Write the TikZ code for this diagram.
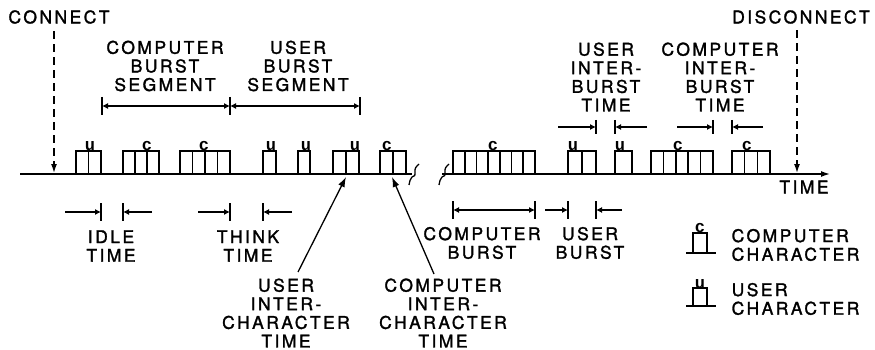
\documentclass[tikz,border=0pt]{standalone}
\usepackage{fontspec}
\newfontfamily\lab{TeX Gyre Heros}[LetterSpace=14,FakeBold=1.6]
\newfontfamily\chr{Liberation Mono}
\usetikzlibrary{arrows.meta}

\begin{document}
\begin{tikzpicture}[x=1pt,y=-1pt,line width=1.3pt,
  txt/.style={font=\lab\fontsize{17.5}{18.6}\selectfont,align=center,inner sep=0pt},
  txtl/.style={txt,align=left,anchor=west},
  chrlab/.style={font=\chr\bfseries\fontsize{17}{17}\selectfont,inner sep=0pt,anchor=base},
  cell/.style={line width=1.6pt},
  axis/.style={line width=1.4pt},
  tip/.style={-{Latex[length=9pt,width=6pt]}},
  dim/.style={line width=1.1pt,-{Latex[length=6pt,width=6pt]}},
  dimboth/.style={line width=1.1pt,{Latex[length=6pt,width=6pt]}-{Latex[length=6pt,width=6pt]}},
  bar/.style={line width=1.4pt},
  marker/.style={line width=1.4pt,dash pattern=on 8pt off 5pt,-{Latex[length=9pt,width=6pt]}},
  pointer/.style={line width=1.3pt,-{Latex[length=10pt,width=7pt]}}]
\useasboundingbox (0,0) rectangle (875,350);

% time axis, broken in the middle
\coordinate (ax0) at (20,174);
\coordinate (ax1) at (412,174);
\coordinate (ax2) at (442,174);
\coordinate (ax3) at (830,174);
\draw[axis] (ax0) -- (ax1);
\draw[axis,tip] (ax2) -- (ax3);
\foreach \dx in {0,30}{
  \draw[line width=1.3pt,xshift=\dx pt] (409,185) .. controls (410,180) .. (412,177)
    .. controls (415,176) .. (415,172) .. controls (415,168) .. (419,164);
}
\node[txt] (time) at (804,187) {TIME};

% character bursts: left edge / right edge / characters / label / label x
\foreach \a/\b/\n/\l/\lx [count=\k] in
  {76/101/2/u/90, 123/159/3/c/147, 180/230/4/c/204, 263/276/1/u/271,
   298/310/1/u/306, 333/359/2/u/355, 380/406/2/c/387,
   453/535/7/c/493, 568/596/2/u/573, 615/632/1/u/620,
   651/713/5/c/678, 732/770/3/c/747}{
  \draw[cell] (\a,174) -- (\a,151) -- (\b,151) -- (\b,174);
  \pgfmathsetmacro\w{(\b-\a)/\n}
  \ifnum\n>1
    \pgfmathtruncatemacro\m{\n-1}
    \foreach \i in {1,...,\m}{\draw[cell] (\a+\i*\w,151) -- (\a+\i*\w,174);}
  \fi
  \node[chrlab] (ch\k) at (\lx,150) {\l};
}

% connect / disconnect markers
\node[txt] (connect) at (59,17) {CONNECT};
\node[txt] (disconnect) at (801,17) {DISCONNECT};
\coordinate (cn) at (54,173);
\coordinate (dn) at (797,173);
\draw[marker] (connect.south -| cn) ++(0,7) -- (cn);
\draw[marker] (disconnect.south -| dn) ++(0,6) -- (dn);

% burst segments above the axis
\node[txt] (cbs) at (165,66) {COMPUTER\\BURST\\SEGMENT};
\node[txt] (ubs) at (298,66) {USER\\BURST\\SEGMENT};
\coordinate (s0) at (102,106);
\coordinate (s1) at (230,106);
\coordinate (s2) at (360,106);
\foreach \p in {s0,s1,s2}{\draw[bar] (\p) ++(0,-9) -- ++(0,18);}
\draw[dimboth] (s0) -- (s1);
\draw[dimboth] (s1) -- (s2);

% inter-burst times above the axis
\node[txt] (uib) at (606,77) {USER\\INTER-\\BURST\\TIME};
\node[txt] (cib) at (720,77) {COMPUTER\\INTER-\\BURST\\TIME};
\coordinate (ub0) at (558,127);  \coordinate (ub1) at (596,127);
\coordinate (ub2) at (615,127);  \coordinate (ub3) at (647,127);
\coordinate (cb0) at (677,127);  \coordinate (cb1) at (713,127);
\coordinate (cb2) at (732,127);  \coordinate (cb3) at (763,127);
\foreach \p in {ub1,ub2,cb1,cb2}{\draw[bar] (\p) ++(0,-7) -- ++(0,14);}
\draw[dim] (ub0) -- (ub1);
\draw[dim] (ub3) -- (ub2);
\draw[dim] (cb0) -- (cb1);
\draw[dim] (cb3) -- (cb2);

% idle and think times below the axis
\node[txt] (idle) at (111,246) {IDLE\\TIME};
\node[txt] (think) at (248,246) {THINK\\TIME};
\coordinate (i0) at (65,212);  \coordinate (i1) at (101,212);
\coordinate (i2) at (123,212); \coordinate (i3) at (152,212);
\coordinate (t0) at (198,212); \coordinate (t1) at (230,212);
\coordinate (t2) at (263,212); \coordinate (t3) at (292,212);
\foreach \p in {i1,i2,t1,t2}{\draw[bar] (\p) ++(0,-9) -- ++(0,18);}
\draw[dim] (i0) -- (i1);
\draw[dim] (i3) -- (i2);
\draw[dim] (t0) -- (t1);
\draw[dim] (t3) -- (t2);

% computer and user bursts below the axis
\node[txt] (cb) at (482,243) {COMPUTER\\BURST};
\node[txt] (ub) at (590,243) {USER\\BURST};
\coordinate (b0) at (453,210); \coordinate (b1) at (535,210);
\coordinate (u0) at (545,210); \coordinate (u1) at (568,210);
\coordinate (u2) at (596,210); \coordinate (u3) at (622,210);
\foreach \p in {b0,b1,u1,u2}{\draw[bar] (\p) ++(0,-9) -- ++(0,18);}
\draw[dimboth] (b0) -- (b1);
\draw[dim] (u0) -- (u1);
\draw[dim] (u3) -- (u2);

% inter-character times
\node[txt] (uic) at (286,313) {USER\\INTER-\\CHARACTER\\TIME};
\node[txt] (cic) at (443,313) {COMPUTER\\INTER-\\CHARACTER\\TIME};
\coordinate (uict) at (298,272);
\coordinate (cict) at (434,274);
\coordinate (uich) at (346,177);
\coordinate (cich) at (392,177);
\draw[pointer] (uict) -- (uich);
\draw[pointer] (cict) -- (cich);

% legend
\coordinate (lc) at (700,253);
\coordinate (lu) at (700,306);
\foreach \p/\l/\h in {lc/c/20, lu/u/18}{
  \draw[line width=1.6pt] (\p) ++(-14,0) -- ++(30,0);
  \draw[line width=1.6pt] (\p) ++(7,0) -- ++(0,-\h) -- ++(-14,0);
  \draw[line width=2.6pt] (\p) ++(-7,0) -- ++(0,-\h-1);
}
\node[chrlab] (lcc) at ([yshift=20.5pt]lc) {c};
\node[chrlab] (luu) at ([yshift=18pt]lu) {u};
\node[txtl] (lct) at (731,245) {COMPUTER\\CHARACTER};
\node[txtl] (lut) at (731,299) {USER\\CHARACTER};
\end{tikzpicture}
\end{document}
